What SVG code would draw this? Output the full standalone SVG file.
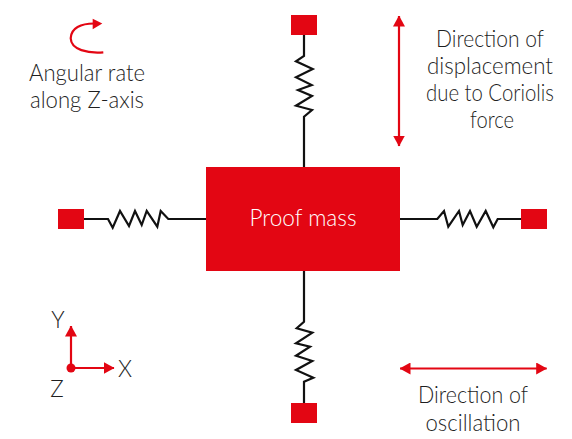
<svg xmlns="http://www.w3.org/2000/svg" width="572" height="439" viewBox="0 0 572 439">
<style>
text{font-family:"Lato","Open Sans",sans-serif;font-size:22.5px;fill:#1f1f1f;text-anchor:middle;font-weight:300}
.anchor{fill:#e30613}
.spring{fill:none;stroke:#111;stroke-width:2.2;stroke-linejoin:miter}
.arrow{fill:none;stroke:#e30613;stroke-width:2.2}
</style>
<defs>
<marker id="head" viewBox="0 0 11 12" refX="10.5" refY="6" markerWidth="11" markerHeight="12" markerUnits="userSpaceOnUse" orient="auto-start-reverse"><path d="M0 0L11 6L0 12Z" fill="#e30613"/></marker>
</defs>
<rect width="572" height="439" fill="#fff"/>
<g id="connectors">
<path class="spring" d="M304 35V56L296 61.3L312.7 69L296 77.3L311.7 85L298 90L312 96L296 105.7L312 110L304 116.7V167"/>
<path class="spring" d="M84 219H108L112.7 227.7L120 211L129 226L135 211L141.7 225L146.7 211L157.3 226.7L160.7 211L168.3 219H206"/>
<path class="spring" d="M400 219H437.3L444 211L448.3 226.7L459 211L462.7 225L470 211L476.7 226.7L485.7 211L493.3 227.3L497.7 219H521"/>
<path class="spring" d="M304 271V321.7L296.7 328.3L312.3 332.7L296 343.3L310 346.7L296 355.7L312.3 361L296 370L313.3 377.700L304 381.7V403"/>
</g>
<g id="proof-mass"><rect class="anchor" x="206" y="167" width="194" height="104"/><text x="303" y="226" textLength="107" lengthAdjust="spacingAndGlyphs" style="fill:#fff">Proof mass</text></g>
<g id="anchor-top"><rect class="anchor" x="291" y="15" width="26" height="20"/></g>
<g id="anchor-left"><rect class="anchor" x="58" y="209" width="26" height="20"/></g>
<g id="anchor-right"><rect class="anchor" x="521" y="209" width="26" height="20"/></g>
<g id="anchor-bottom"><rect class="anchor" x="291" y="403" width="26" height="20"/></g>
<g id="angular-rate">
<path d="M103.3 52.3C88 53.5 71 50 70.7 38.3C71 28 81 23.5 94 23.500" fill="none" stroke="#e30613" stroke-width="2.2"/>
<path d="M102.3 23.5L92.7 18.7V29.3Z" fill="#e30613"/>
<text x="87" y="81" textLength="116" lengthAdjust="spacingAndGlyphs">Angular rate</text><text x="87" y="108" textLength="114" lengthAdjust="spacingAndGlyphs">along Z-axis</text>
</g>
<g id="coriolis-direction">
<path class="arrow" d="M399 16V146" marker-start="url(#head)" marker-end="url(#head)"/>
<text x="490" y="47" textLength="108" lengthAdjust="spacingAndGlyphs">Direction of</text><text x="490" y="74" textLength="126" lengthAdjust="spacingAndGlyphs">displacement</text><text x="490" y="101" textLength="128" lengthAdjust="spacingAndGlyphs">due to Coriolis</text><text x="492" y="128" textLength="44" lengthAdjust="spacingAndGlyphs">force</text>
</g>
<g id="oscillation-direction">
<path class="arrow" d="M400 368.500H546.700" marker-start="url(#head)" marker-end="url(#head)"/>
<text x="473" y="403" textLength="110" lengthAdjust="spacingAndGlyphs">Direction of</text><text x="473" y="431" textLength="95" lengthAdjust="spacingAndGlyphs">oscillation</text>
</g>
<g id="axes">
<path class="arrow" d="M71 368V326" marker-end="url(#head)"/>
<path class="arrow" d="M71 368H114" marker-end="url(#head)"/>
<circle cx="71" cy="368" r="4.500" fill="#e30613"/>
<text x="58" y="328">Y</text><text x="125" y="377">X</text><text x="57" y="397">Z</text>
</g>
</svg>
